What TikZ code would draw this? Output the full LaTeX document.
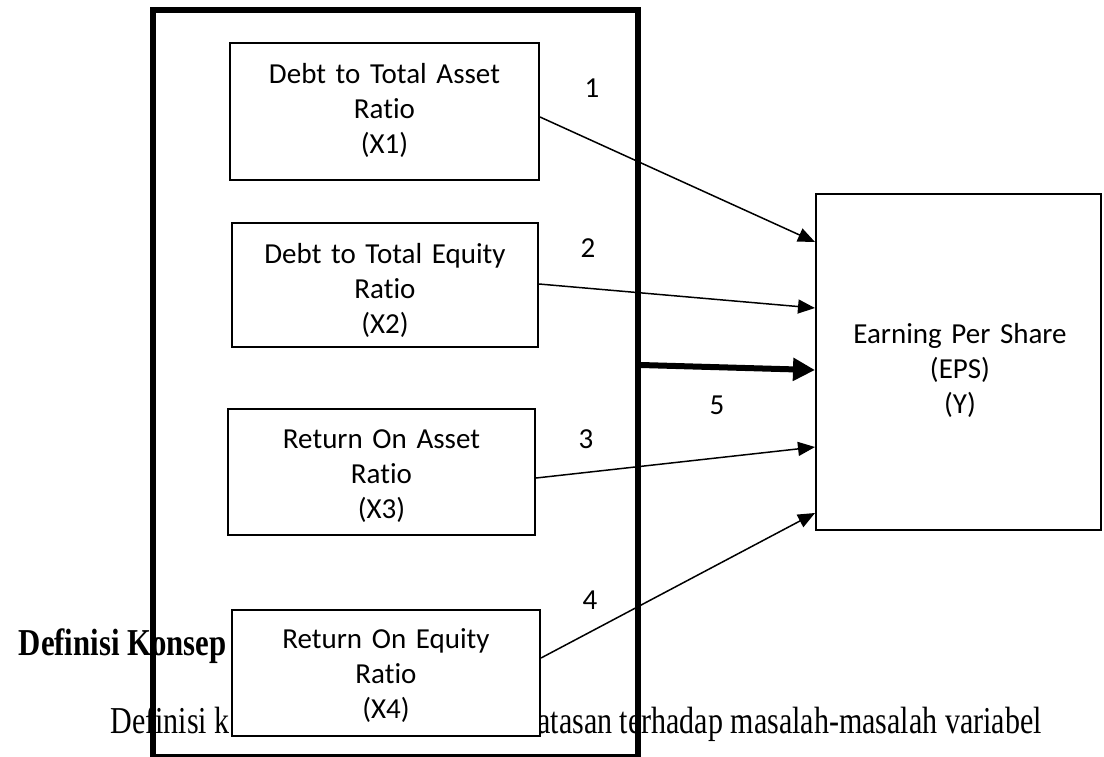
\documentclass[tikz,border=0pt]{standalone}
\usepackage{fontspec}
\usepackage{graphicx}
\setmainfont{Liberation Serif}
\newfontfamily\calfont[Ligatures=NoCommon]{Carlito}
\usetikzlibrary{arrows.meta,calc}
\newcommand{\calsize}{\calfont\fontsize{14.5}{17.5}\selectfont\spaceskip=0.17em plus 0.02em\relax}
\begin{document}
\begin{tikzpicture}[x=0.5pt,y=-0.5pt,
  varbox/.style={draw, line width=1pt, fill=white, inner sep=0pt},
  outerbox/.style={draw, line width=3pt, inner sep=0pt},
  boxtext/.style={font=\calsize, text width=150pt, align=center, anchor=base, inner sep=0pt},
  conn/.style={line width=0.75pt, -{Triangle[length=8.5pt,width=7pt]}},
  bigconn/.style={line width=3pt, -{Triangle[length=11pt,width=11pt]}},
  num/.style={font=\calsize, inner sep=0pt},
  bodytext/.style={inner sep=0pt, font=\fontsize{19}{23}\selectfont}
]
\useasboundingbox[fill=white] (0,0) rectangle (1104,756);

% background document text
\node[bodytext, anchor=base east, font=\fontsize{19}{23}\selectfont\bfseries] (h1) at (227,655) {\scalebox{0.81}[1]{Definisi Konsep}};
\node[bodytext, anchor=base east] (p1) at (230,733) {\scalebox{0.79}[1]{Definisi k}};
\node[bodytext, anchor=base west] (p2) at (537,733) {\scalebox{0.79}[1]{atasan terhadap masalah-masalah variabel}};

% outer frame
\node[outerbox, minimum width=242.5pt, minimum height=373.5pt] (outer) at (395.5,383.5) {};

% variable boxes
\node[varbox, minimum width=154.5pt, minimum height=68.5pt] (b1) at (384.5,111.5) {};
\node[varbox, minimum width=153pt, minimum height=62pt] (b2) at (385,285) {};
\node[varbox, minimum width=153.5pt, minimum height=63pt] (b3) at (381.5,472) {};
\node[varbox, minimum width=154pt, minimum height=63pt] (b4) at (386,673) {};
\node[varbox, minimum width=142.5pt, minimum height=168pt] (eps) at (958.5,362) {};

\node[boxtext] (t1) at (384.5,83) {Debt to Total Asset\\Ratio\\(X1)};
\node[boxtext] (t2) at (385,263) {Debt to Total Equity\\Ratio\\(X2)};
\node[boxtext] (t3) at (381.5,448) {Return On Asset\\Ratio\\(X3)};
\node[boxtext] (t4) at (386,648) {Return On Equity\\Ratio\\(X4)};
\node[boxtext] (ty) at (960,343) {Earning Per Share\\(EPS)\\(Y)};

% connectors
\draw[conn] ($(b1.east)+(0,5.5)$) -- ($(eps.west)+(0,-120)$);
\draw[conn] ($(b2.east)+(0,-1)$) -- ($(eps.west)+(0,-54)$);
\draw[bigconn] ($(outer.east)+(0,-18.5)$) -- ($(eps.west)+(0,8)$);
\draw[conn] ($(b3.east)+(0,6)$) -- ($(eps.west)+(0,85)$);
\draw[conn] ($(b4.east)+(0,-15)$) -- ($(eps.west)+(0,151)$);

% numbers
\node[num] (n1) at (592,88) {1};
\node[num] (n2) at (588,248) {2};
\node[num] (n3) at (586,439) {3};
\node[num] (n4) at (590,600) {4};
\node[num] (n5) at (717,405) {5};
\end{tikzpicture}
\end{document}
